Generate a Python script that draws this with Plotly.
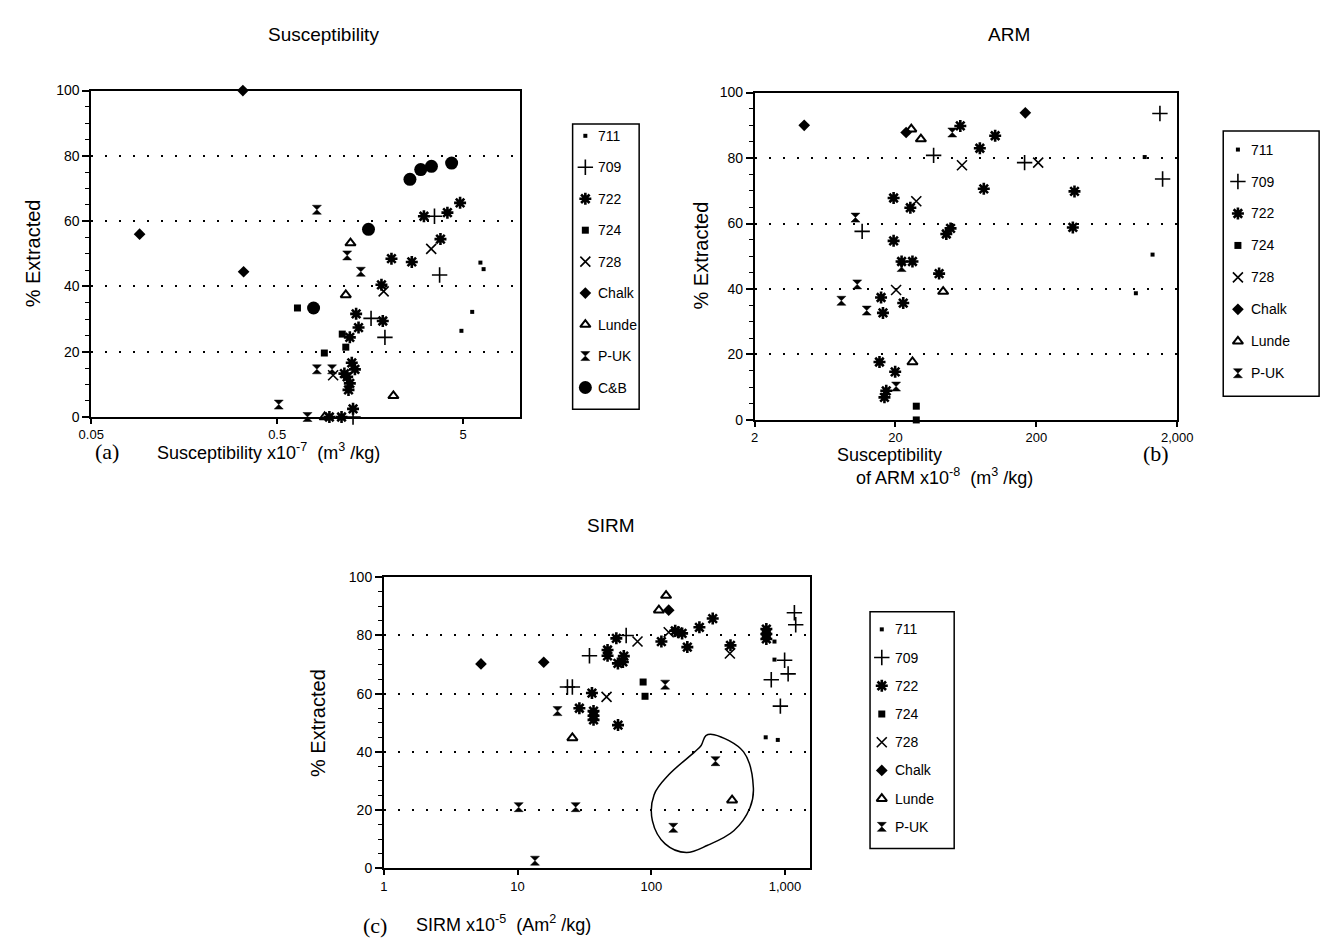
import math
import plotly.graph_objects as go

W, H = 1340, 950
SANS = "Liberation Sans, Arial, sans-serif"
SERIF = "Liberation Serif, Times New Roman, serif"

# ---------------- data: panel (a) Susceptibility ----------------
SUS_711_X = [6.2, 6.45, 5.6, 4.9]
SUS_711_Y = [47.3, 45.3, 32.2, 26.4]
SUS_709_X = [3.51, 3.74, 1.6, 1.9, 1.28]
SUS_709_Y = [61.5, 43.5, 30.2, 24.4, 0]
SUS_722_X = [4.82, 4.12, 3.08, 3.78, 2.06, 2.65, 1.82, 1.33, 1.85, 1.37, 1.23, 1.26,
             1.31, 1.15, 1.19, 1.23, 1.21, 1.28, 0.955, 1.11]
SUS_722_Y = [65.6, 62.6, 61.5, 54.5, 48.5, 47.5, 40.5, 31.6, 29.4, 27.4, 24.4, 16.6,
             14.6, 13.3, 12.3, 10.3, 8.3, 2.5, 0, 0]
SUS_724_X = [0.643, 1.12, 1.17, 0.897]
SUS_724_Y = [33.4, 25.4, 21.4, 19.6]
SUS_728_X = [3.37, 1.87, 1.0]
SUS_728_Y = [51.5, 38.5, 12.8]
SUS_CHALK_X = [0.327, 0.091, 0.33]
SUS_CHALK_Y = [100, 56, 44.5]
SUS_LUNDE_X = [1.24, 1.17, 2.11, 0.9]
SUS_LUNDE_Y = [53.3, 37.4, 6.5, 0]
SUS_PUK_X = [0.818, 1.19, 1.41, 0.818, 0.987, 0.51, 0.728]
SUS_PUK_Y = [63.5, 49.5, 44.5, 14.6, 14.6, 3.8, 0]
SUS_CB_X = [2.59, 2.96, 3.38, 4.34, 1.55, 0.785]
SUS_CB_Y = [72.8, 75.8, 76.8, 77.8, 57.5, 33.4]

# ---------------- data: panel (b) ARM ----------------
ARM_711_X = [1175, 1336, 1017]
ARM_711_Y = [80.3, 50.5, 38.7]
ARM_709_X = [37.3, 1507, 165, 1574, 11.6]
ARM_709_Y = [80.8, 93.6, 78.6, 73.6, 57.6]
ARM_722_X = [57.7, 102, 79.4, 84.7, 373, 363, 49.2, 45.9, 19.4, 25.5, 19.4, 22.1, 26.4,
             40.8, 15.8, 16.3, 22.7, 15.4, 19.9, 17.2, 16.7]
ARM_722_Y = [89.8, 86.8, 83, 70.6, 69.8, 58.8, 58.5, 56.8, 67.8, 64.8, 54.7, 48.4, 48.4,
             44.7, 37.4, 32.7, 35.7, 17.7, 14.7, 8.9, 6.9]
ARM_724_X = [28.1, 28.1]
ARM_724_Y = [4.2, 0]
ARM_728_X = [59.3, 206, 28.1, 20.2]
ARM_728_Y = [77.8, 78.6, 66.8, 39.7]
ARM_CHALK_X = [4.5, 23.8, 167]
ARM_CHALK_Y = [90, 87.8, 93.8]
ARM_LUNDE_X = [25.9, 30.3, 43.6, 26.4]
ARM_LUNDE_Y = [88.8, 85.8, 39.2, 17.7]
ARM_PUK_X = [50.6, 10.4, 22.1, 8.26, 10.7, 12.5, 20.2]
ARM_PUK_Y = [87.8, 61.8, 46.7, 36.4, 41.4, 33.4, 10.2]

# ---------------- data: panel (c) SIRM ----------------
SIRM_711_X = [834, 834, 717, 883]
SIRM_711_Y = [77.9, 71.7, 45, 44.1]
SIRM_709_X = [23.6, 25.7, 34.5, 64.9, 1175, 1202, 993, 1055, 789, 923]
SIRM_709_Y = [62.3, 62.3, 73, 80, 87.8, 83.7, 71.5, 66.8, 64.8, 55.7]
SIRM_722_X = [288, 229, 151, 159, 170, 119, 186, 54.8, 47.1, 47.1, 62.3, 56.3, 61.3, 391,
              725, 725, 725, 36, 29, 37, 37, 37, 56.4]
SIRM_722_Y = [85.8, 82.8, 81.6, 81.1, 80.7, 77.9, 76, 79, 75, 73, 72.9, 70.4, 70.9, 76.6,
              82.2, 80.5, 78.8, 60.2, 55, 54, 52.4, 51, 49.2]
SIRM_724_X = [86.9, 89.8]
SIRM_724_Y = [64, 59.1]
SIRM_728_X = [135, 78.9, 387, 46.3]
SIRM_728_Y = [81.1, 77.9, 73.8, 58.9]
SIRM_CHALK_X = [5.33, 15.7, 135]
SIRM_CHALK_Y = [70.2, 70.8, 88.7]
SIRM_LUNDE_X = [129, 114, 25.7, 402]
SIRM_LUNDE_Y = [93.7, 88.7, 44.8, 23.4]
SIRM_PUK_X = [19.9, 10.2, 27.2, 13.5, 127, 302, 146]
SIRM_PUK_Y = [54, 21, 21, 2.6, 63.1, 36.8, 13.9]

# hand-drawn loop around three SIRM points
LOOP_X = [256, 295, 490, 580, 547, 414, 264, 183, 127, 102, 105, 135, 211, 236, 256]
LOOP_Y = [45.6, 45.9, 40, 27.6, 20.8, 12.9, 7.9, 5.4, 8.4, 16.3, 25.3, 32.1, 40, 42.2, 45.6]

# tick labels
SUS_TICKS = [0.05, 0.5, 5]
SUS_TICKTEXT = ["0.05", "0.5", "5"]
ARM_TICKS = [2, 20, 200, 2000]
ARM_TICKTEXT = ["2", "20", "200", "2,000"]
SIRM_TICKS = [1, 10, 100, 1000]
SIRM_TICKTEXT = ["1", "10", "100", "1,000"]
Y_TICKS = [0, 20, 40, 60, 80, 100]

SERIES_A = ["711", "709", "722", "724", "728", "Chalk", "Lunde", "P-UK", "C&B"]
SERIES_BC = ["711", "709", "722", "724", "728", "Chalk", "Lunde", "P-UK"]

PANEL_A = {
    "711": (SUS_711_X, SUS_711_Y), "709": (SUS_709_X, SUS_709_Y), "722": (SUS_722_X, SUS_722_Y),
    "724": (SUS_724_X, SUS_724_Y), "728": (SUS_728_X, SUS_728_Y), "Chalk": (SUS_CHALK_X, SUS_CHALK_Y),
    "Lunde": (SUS_LUNDE_X, SUS_LUNDE_Y), "P-UK": (SUS_PUK_X, SUS_PUK_Y), "C&B": (SUS_CB_X, SUS_CB_Y),
}
PANEL_B = {
    "711": (ARM_711_X, ARM_711_Y), "709": (ARM_709_X, ARM_709_Y), "722": (ARM_722_X, ARM_722_Y),
    "724": (ARM_724_X, ARM_724_Y), "728": (ARM_728_X, ARM_728_Y), "Chalk": (ARM_CHALK_X, ARM_CHALK_Y),
    "Lunde": (ARM_LUNDE_X, ARM_LUNDE_Y), "P-UK": (ARM_PUK_X, ARM_PUK_Y),
}
PANEL_C = {
    "711": (SIRM_711_X, SIRM_711_Y), "709": (SIRM_709_X, SIRM_709_Y), "722": (SIRM_722_X, SIRM_722_Y),
    "724": (SIRM_724_X, SIRM_724_Y), "728": (SIRM_728_X, SIRM_728_Y), "Chalk": (SIRM_CHALK_X, SIRM_CHALK_Y),
    "Lunde": (SIRM_LUNDE_X, SIRM_LUNDE_Y), "P-UK": (SIRM_PUK_X, SIRM_PUK_Y),
}

# ---------------- styles ----------------
K = "black"
STYLE = {
    "711": dict(symbol="square", size=4, color=K, line=dict(width=0, color=K)),
    "709": dict(symbol="cross-thin", size=11, color=K, line=dict(width=1.6, color=K)),
    "722": dict(symbol="asterisk", size=10, color=K, line=dict(width=2.6, color=K)),
    "724": dict(symbol="square", size=7, color=K, line=dict(width=0, color=K)),
    "728": dict(symbol="x-thin", size=10, color=K, line=dict(width=1.6, color=K)),
    "Chalk": dict(symbol="diamond", size=9, color=K, line=dict(width=0, color=K)),
    "Lunde": dict(symbol="triangle-up-open", size=9, color=K, line=dict(width=2, color=K)),
    "P-UK": dict(symbol="hourglass", size=9, color=K, line=dict(width=0.5, color=K)),
    "C&B": dict(symbol="circle", size=13, color=K, line=dict(width=0, color=K)),
}


def dom_x(a, b):
    return [a / W, b / W]


def dom_y(top, bottom):
    return [1 - bottom / H, 1 - top / H]


fig = go.Figure()

# panel boxes (pixels)
PA = dict(l=80, r=518, t=84, b=416)
PB = dict(l=758, r=1190, t=86, b=419)
PC = dict(l=379, r=815, t=579, b=875)

for series, data, ax in [(SERIES_A, PANEL_A, ("x", "y")), (SERIES_BC, PANEL_B, ("x2", "y2")),
                         (SERIES_BC, PANEL_C, ("x3", "y3"))]:
    for name in series:
        xs, ys = data[name]
        fig.add_trace(go.Scatter(x=xs, y=ys, mode="markers", name=name, showlegend=False,
                                 marker=STYLE[name], xaxis=ax[0], yaxis=ax[1], cliponaxis=False))

fig.add_trace(go.Scatter(x=LOOP_X, y=LOOP_Y, mode="lines", line=dict(color=K, width=1.5, shape="spline"),
                         showlegend=False, xaxis="x3", yaxis="y3"))

yax = dict(range=[0, 100], tickmode="array", tickvals=Y_TICKS, ticks="outside", ticklen=7, tickwidth=1.5,
           tickcolor=K, minor=dict(tickmode="linear", tick0=0, dtick=5, ticks="outside", ticklen=4,
                                   tickwidth=1.2, tickcolor=K, showgrid=False),
           showgrid=True, gridcolor=K, griddash="2px,12px", gridwidth=1.6, showline=True, mirror=True,
           linecolor=K, linewidth=1.6, zeroline=False, fixedrange=True,
           tickfont=dict(family=SANS, size=14, color=K))
xbase = dict(type="log", tickmode="array", ticks="outside", ticklen=5, tickwidth=1.5, tickcolor=K,
             showgrid=False, showline=True, mirror=True, linecolor=K, linewidth=1.6, zeroline=False,
             ticklabelstandoff=0, tickfont=dict(family=SANS, size=13, color=K))

layout = dict(
    width=W, height=H, margin=dict(l=0, r=0, t=0, b=0), plot_bgcolor="white", paper_bgcolor="white",
    showlegend=False,
    xaxis=dict(xbase, domain=dom_x(PA["l"], PA["r"]), anchor="y",
               range=[math.log10(0.05), math.log10(0.05) + (PA["r"] - PA["l"]) / 190],
               tickvals=SUS_TICKS, ticktext=SUS_TICKTEXT),
    yaxis=dict(yax, domain=dom_y(PA["t"], PA["b"]), anchor="x"),
    xaxis2=dict(xbase, domain=dom_x(PB["l"], PB["r"]), anchor="y2",
                range=[math.log10(2), math.log10(2000)], tickvals=ARM_TICKS, ticktext=ARM_TICKTEXT),
    yaxis2=dict(yax, domain=dom_y(PB["t"], PB["b"]), anchor="x2"),
    xaxis3=dict(xbase, domain=dom_x(PC["l"], PC["r"]), anchor="y3",
                range=[0, (PC["r"] - PC["l"]) / 136.7], tickvals=SIRM_TICKS, ticktext=SIRM_TICKTEXT),
    yaxis3=dict(yax, domain=dom_y(PC["t"], PC["b"]), anchor="x3"),
)

# ---------------- manual legends ----------------
LEGENDS = [
    # (series, box l, r, t, b, marker x, text x, first y, step)
    (SERIES_A, 572, 640, 118, 408, 585, 596, 130, 32.0),
    (SERIES_BC, 1237, 1335, 125, 395, 1252, 1263, 144, 32.5),
    (SERIES_BC, 876, 962, 614, 855, 888, 899, 632, 28.7),
]
annotations = []
shapes = []
for i, (series, l, r, t, b, mx, tx, y0, step) in enumerate(LEGENDS):
    n = 4 + i
    xa, ya = f"xaxis{n}", f"yaxis{n}"
    layout[xa] = dict(domain=dom_x(l, r), range=[l, r], visible=False, anchor=f"y{n}", fixedrange=True)
    layout[ya] = dict(domain=dom_y(t, b), range=[b, t], visible=False, anchor=f"x{n}", fixedrange=True)
    shapes.append(dict(type="rect", xref="paper", yref="paper", x0=l / W, x1=r / W, y0=1 - b / H,
                       y1=1 - t / H, line=dict(color=K, width=1.5)))
    for j, name in enumerate(series):
        yy = y0 + step * j
        fig.add_trace(go.Scatter(x=[mx], y=[yy], mode="markers", marker=STYLE[name], showlegend=False,
                                 xaxis=f"x{n}", yaxis=f"y{n}", hoverinfo="skip", cliponaxis=False))
        annotations.append(dict(x=tx, y=yy, xref=f"x{n}", yref=f"y{n}", text=name, showarrow=False,
                                xanchor="left", yanchor="middle",
                                font=dict(family=SANS, size=14, color=K)))


def ann(text, x, y, size, family=SANS, xanchor="center", angle=0):
    annotations.append(dict(text=text, x=x / W, y=1 - y / H, xref="paper", yref="paper", showarrow=False,
                            xanchor=xanchor, yanchor="middle", textangle=angle,
                            font=dict(family=family, size=size, color=K)))


# titles
ann("Susceptibility", 317, 27, 19)
ann("ARM", 1018, 27, 19)
ann("SIRM", 611, 526, 19)
# y titles
ann("% Extracted", 20, 250, 20, angle=-90)
ann("% Extracted", 703, 252, 20, angle=-90)
ann("% Extracted", 311, 727, 20, angle=-90)
# x titles
ann("(a)", 96, 451, 22, family=SERIF)
ann("Susceptibility x10<sup>-7</sup>  (m<sup>3</sup> /kg)", 145, 451, 18, xanchor="left")
ann("Susceptibility", 840, 455, 18, xanchor="left")
ann("of ARM x10<sup>-8</sup>  (m<sup>3</sup> /kg)", 860, 477, 18, xanchor="left")
ann("(b)", 1168, 453, 22, family=SERIF)
ann("(c)", 370, 933, 22, family=SERIF)
ann("SIRM x10<sup>-5</sup>  (Am<sup>2</sup> /kg)", 410, 931, 18, xanchor="left")

layout["annotations"] = annotations
layout["shapes"] = shapes
fig.update_layout(**layout)
fig.write_html("out.html")
